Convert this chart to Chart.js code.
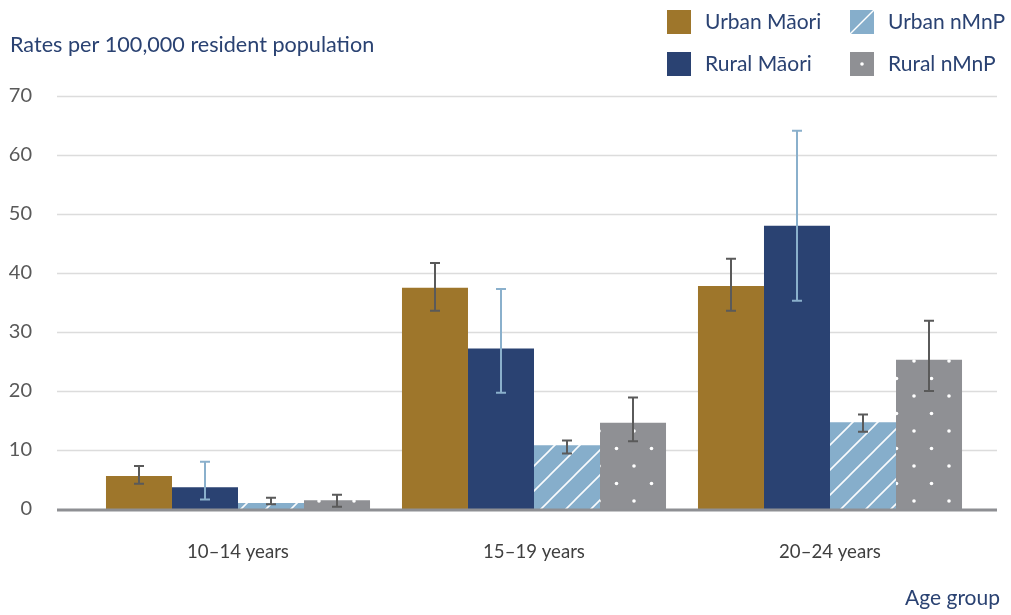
<!DOCTYPE html>
<html>
<head>
<meta charset="utf-8">
<script src="https://cdn.jsdelivr.net/npm/chart.js@4.4.1/dist/chart.umd.min.js"></script>
<style>
  html, body { margin: 0; padding: 0; background: #fff; }
  #wrap { position: relative; width: 1011px; height: 615px; }
</style>
</head>
<body>
<div id="wrap"><canvas id="chart" width="1011" height="615"></canvas></div>
<script>
// data
const categories = ['10–14 years', '15–19 years', '20–24 years'];
const seriesNames = ['Urban Māori', 'Rural Māori', 'Urban nMnP', 'Rural nMnP'];

const urbanMaori     = [5.6, 37.5, 37.8];
const urbanMaoriLow  = [4.3, 33.6, 33.6];
const urbanMaoriHigh = [7.3, 41.7, 42.4];

const ruralMaori     = [3.7, 27.2, 48.0];
const ruralMaoriLow  = [1.6, 19.7, 35.3];
const ruralMaoriHigh = [8.0, 37.3, 64.1];

const urbanNmnp     = [1.0, 10.8, 14.7];
const urbanNmnpLow  = [0.8, 9.4, 13.1];
const urbanNmnpHigh = [1.9, 11.6, 16.0];

const ruralNmnp     = [1.5, 14.6, 25.3];
const ruralNmnpLow  = [0.4, 11.5, 20.0];
const ruralNmnpHigh = [2.4, 18.9, 31.9];

const yTicks = [0, 10, 20, 30, 40, 50, 60, 70];

const FONT = 'Lato';
const NAVY = '#2a4272';
const GOLD = '#9e762b';
const LIGHTBLUE = '#86aecb';
const GREY = '#8f9094';

// patterns for the nMnP bars
function stripePattern() {
    const c = document.createElement('canvas');
    c.width = 25; c.height = 25;
    const g = c.getContext('2d');
    g.fillStyle = LIGHTBLUE;
    g.fillRect(0, 0, 25, 25);
    g.strokeStyle = 'rgba(255,255,255,0.95)';
    g.lineWidth = 1.6;
    g.beginPath();
    g.moveTo(-2, 27); g.lineTo(27, -2);
    g.moveTo(-2, 2); g.lineTo(2, -2);
    g.moveTo(23, 27); g.lineTo(27, 23);
    g.stroke();
    return g.createPattern(c, 'repeat');
}

function dotPattern() {
    const c = document.createElement('canvas');
    c.width = 35; c.height = 35;
    const g = c.getContext('2d');
    g.fillStyle = GREY;
    g.fillRect(0, 0, 35, 35);
    g.fillStyle = '#ffffff';
    [[4, 11], [21.5, 28.5]].forEach(p => {
        g.beginPath();
        g.arc(p[0], p[1], 1.8, 0, Math.PI * 2);
        g.fill();
    });
    return g.createPattern(c, 'repeat');
}

const errLow  = [urbanMaoriLow, ruralMaoriLow, urbanNmnpLow, ruralNmnpLow];
const errHigh = [urbanMaoriHigh, ruralMaoriHigh, urbanNmnpHigh, ruralNmnpHigh];
const errColor = ['#5a5a5a', '#8ab0cc', '#5a5a5a', '#5a5a5a'];

// gridlines stretch past the bars on both sides, like the original
const gridPlugin = {
    id: 'wideGrid',
    beforeDatasetsDraw(chart) {
        const y = chart.scales.y;
        const ctx = chart.ctx;
        ctx.save();
        ctx.strokeStyle = '#dcdcdc';
        ctx.lineWidth = 1.5;
        yTicks.forEach(v => {
            if (v === 0) return;
            const py = Math.round(y.getPixelForValue(v)) + 0.5;
            ctx.beginPath();
            ctx.moveTo(57, py);
            ctx.lineTo(997, py);
            ctx.stroke();
        });
        ctx.restore();
    },
    afterDatasetsDraw(chart) {
        const y = chart.scales.y;
        const ctx = chart.ctx;
        ctx.save();
        // base line
        ctx.strokeStyle = '#8e8f93';
        ctx.lineWidth = 3;
        const py0 = y.getPixelForValue(0) + 1;
        ctx.beginPath();
        ctx.moveTo(57, py0);
        ctx.lineTo(997, py0);
        ctx.stroke();

        // error bars
        chart.data.datasets.forEach((ds, i) => {
            const meta = chart.getDatasetMeta(i);
            ctx.strokeStyle = errColor[i];
            ctx.lineWidth = 2;
            meta.data.forEach((bar, j) => {
                const x = Math.round(bar.x);
                const yl = y.getPixelForValue(errLow[i][j]);
                const yh = y.getPixelForValue(errHigh[i][j]);
                ctx.beginPath();
                ctx.moveTo(x, yl); ctx.lineTo(x, yh);
                ctx.moveTo(x - 5, yl); ctx.lineTo(x + 5, yl);
                ctx.moveTo(x - 5, yh); ctx.lineTo(x + 5, yh);
                ctx.stroke();
            });
        });
        ctx.restore();
    }
};

// title, axis name and the 2x2 legend
const textPlugin = {
    id: 'extraText',
    afterDraw(chart) {
        const ctx = chart.ctx;
        ctx.save();
        ctx.fillStyle = NAVY;
        ctx.textBaseline = 'middle';
        ctx.font = '21.6px ' + FONT;
        ctx.textAlign = 'left';
        ctx.fillText('Rates per 100,000 resident population', 10, 45);
        ctx.textAlign = 'right';
        ctx.font = '21px ' + FONT;
        ctx.fillText('Age group', 1000, 598);

        const spots = [[667, 10], [667, 52], [850, 10], [850, 52]];
        const fills = chart.data.datasets.map(d => d.backgroundColor);
        spots.forEach((s, i) => {
            const [sx, sy] = s;
            ctx.fillStyle = i === 2 ? LIGHTBLUE : (i === 3 ? GREY : fills[i]);
            ctx.fillRect(sx, sy, 24, 24);
            if (i === 2) {
                ctx.strokeStyle = '#fff';
                ctx.lineWidth = 1.5;
                ctx.beginPath();
                ctx.moveTo(sx, sy + 24); ctx.lineTo(sx + 24, sy);
                ctx.stroke();
            }
            if (i === 3) {
                ctx.fillStyle = '#fff';
                ctx.beginPath();
                ctx.arc(sx + 12, sy + 12, 1.8, 0, Math.PI * 2);
                ctx.fill();
            }
            ctx.fillStyle = NAVY;
            ctx.textAlign = 'left';
            ctx.font = '21px ' + FONT;
            ctx.fillText(seriesNames[i], sx + 38, sy + 12);
        });
        ctx.restore();
    }
};

const ctx = document.getElementById('chart').getContext('2d');
new Chart(ctx, {
    type: 'bar',
    data: {
        labels: categories,
        datasets: [
            { label: seriesNames[0], data: urbanMaori, backgroundColor: GOLD },
            { label: seriesNames[1], data: ruralMaori, backgroundColor: NAVY },
            { label: seriesNames[2], data: urbanNmnp, backgroundColor: stripePattern() },
            { label: seriesNames[3], data: ruralNmnp, backgroundColor: dotPattern() }
        ]
    },
    options: {
        responsive: false,
        animation: false,
        categoryPercentage: 0.892,
        barPercentage: 1.0,
        layout: { padding: { left: 0, right: 33, top: 96, bottom: 0 } },
        plugins: {
            legend: { display: false },
            tooltip: { enabled: false }
        },
        scales: {
            x: {
                offset: true,
                grid: { display: false },
                border: { display: false },
                ticks: { padding: 24, color: '#404040', font: { family: FONT, size: 18.6 } },
                afterFit: s => { s.height = 106; }
            },
            y: {
                min: 0,
                max: 70,
                grid: { display: false },
                border: { display: false },
                ticks: { stepSize: 10, padding: 50, color: '#595959', font: { family: FONT, size: 20 } },
                afterFit: s => { s.width = 90; }
            }
        }
    },
    plugins: [gridPlugin, textPlugin]
});
</script>
</body>
</html>
